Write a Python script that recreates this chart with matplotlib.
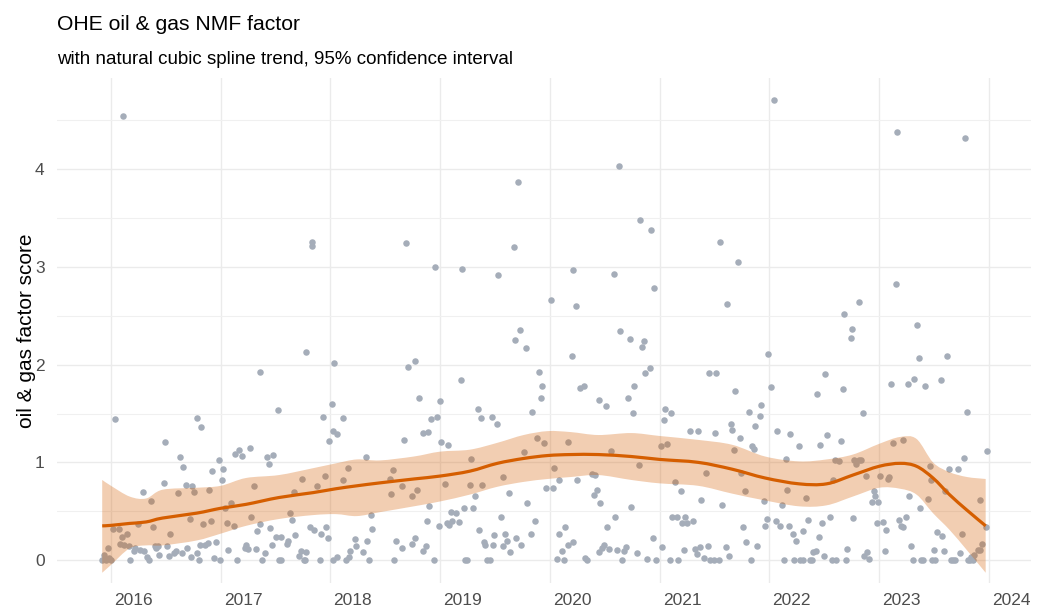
import matplotlib
matplotlib.use('Agg')
import matplotlib.pyplot as plt
import matplotlib.transforms as mtransforms
from matplotlib.path import Path
from matplotlib.patches import PathPatch
import numpy as np

# observed factor scores: (decimal year, score)
pts_2016_2017 = [
    (2016.11, 4.55), (2017.83, 3.26), (2017.83, 3.21), (2017.78, 2.13), (2017.36, 1.93),
    (2018.03, 2.02), (2016.04, 1.44), (2016.78, 1.45), (2016.82, 1.36), (2016.49, 1.21),
    (2016.63, 1.06), (2016.66, 0.95), (2016.48, 0.79), (2016.29, 0.70), (2016.36, 0.60),
    (2016.61, 0.69), (2016.68, 0.77), (2016.74, 0.76), (2016.76, 0.70), (2016.89, 0.72),
    (2016.92, 0.91), (2017.02, 0.93), (2016.98, 1.02), (2017.01, 0.82), (2017.13, 1.09),
    (2017.17, 1.13), (2017.19, 1.07), (2017.27, 1.15), (2017.52, 1.54), (2017.42, 1.05),
    (2017.44, 0.98), (2017.48, 1.08), (2017.30, 0.76), (2017.09, 0.58), (2017.04, 0.53),
    (2017.06, 0.38), (2017.12, 0.35), (2017.28, 0.44), (2017.36, 0.37), (2017.33, 0.30),
    (2017.45, 0.33), (2017.63, 0.48), (2017.65, 0.41), (2017.74, 0.83), (2017.67, 0.70),
    (2017.88, 0.76), (2017.95, 0.86), (2017.93, 1.46), (2018.01, 1.60), (2018.02, 1.32),
    (2017.99, 1.22), (2017.81, 0.34), (2017.85, 0.31), (2017.91, 0.27), (2017.96, 0.34),
    (2017.98, 0.23), (2017.68, 0.26), (2017.61, 0.19), (2017.60, 0.16), (2017.47, 0.15),
    (2017.50, 0.24), (2017.55, 0.24), (2017.73, 0.09), (2017.78, 0.08), (2017.71, 0.04),
    (2017.76, 0.00), (2017.77, 0.00), (2017.90, 0.00), (2018.02, 0.00), (2017.53, 0.00),
    (2017.55, 0.00), (2017.38, 0.00), (2017.40, 0.07), (2017.32, 0.11), (2017.23, 0.15),
    (2017.25, 0.11), (2017.22, 0.12), (2017.15, 0.00), (2017.07, 0.10), (2016.96, 0.18),
    (2016.99, 0.00), (2016.94, 0.02), (2016.88, 0.17), (2016.86, 0.15), (2016.81, 0.15),
    (2016.78, 0.07), (2016.80, 0.00), (2016.73, 0.03), (2016.69, 0.12), (2016.65, 0.07),
    (2016.59, 0.09), (2016.57, 0.07), (2016.53, 0.04), (2016.51, 0.14), (2016.44, 0.05),
    (2016.41, 0.12), (2016.43, 0.14), (2016.40, 0.14), (2016.35, 0.00), (2016.33, 0.03),
    (2016.30, 0.09), (2016.26, 0.10), (2016.22, 0.12), (2016.21, 0.09), (2016.17, 0.00),
    (2016.54, 0.27), (2016.38, 0.34), (2016.25, 0.37), (2016.15, 0.27), (2016.10, 0.24),
    (2016.08, 0.16), (2016.12, 0.15), (2016.16, 0.14), (2016.02, 0.32), (2016.07, 0.32),
    (2015.92, 0.00), (2015.94, 0.05), (2015.97, 0.12), (2016.00, 0.00), (2015.98, 0.02),
    (2015.95, 0.00), (2016.84, 0.37), (2016.91, 0.40), (2016.72, 0.42),
]

pts_2018_2019 = [
    (2019.71, 3.87), (2018.69, 3.25), (2019.67, 3.20), (2018.95, 3.00), (2019.20, 2.98),
    (2019.53, 2.92), (2020.21, 2.97), (2020.01, 2.66), (2020.24, 2.60), (2019.73, 2.36),
    (2019.68, 2.25), (2019.78, 2.17), (2020.20, 2.09), (2018.71, 1.98), (2018.77, 2.04),
    (2019.19, 1.84), (2019.90, 1.93), (2019.93, 1.78), (2019.92, 1.66), (2020.27, 1.76),
    (2020.31, 1.78), (2020.45, 1.64), (2018.81, 1.66), (2019.00, 1.63), (2019.34, 1.55),
    (2019.37, 1.45), (2019.47, 1.46), (2019.52, 1.39), (2019.84, 1.52), (2018.92, 1.44),
    (2018.97, 1.46), (2018.11, 1.45), (2018.06, 1.29), (2018.84, 1.30), (2018.89, 1.31),
    (2018.67, 1.23), (2019.01, 1.21), (2019.07, 1.18), (2019.88, 1.25), (2019.95, 1.20),
    (2020.16, 1.21), (2018.32, 1.06), (2018.16, 0.94), (2018.11, 0.82), (2018.57, 0.92),
    (2018.54, 0.83), (2018.55, 0.68), (2018.65, 0.76), (2018.74, 0.66), (2018.79, 0.72),
    (2019.04, 0.78), (2019.28, 1.03), (2019.27, 0.77), (2019.38, 0.77), (2019.57, 0.85),
    (2019.76, 1.11), (2020.04, 0.94), (2020.08, 0.82), (2019.96, 0.74), (2020.03, 0.74),
    (2019.63, 0.69), (2019.79, 0.58), (2019.32, 0.66), (2019.22, 0.53), (2019.30, 0.53),
    (2018.90, 0.55), (2019.10, 0.49), (2019.14, 0.48), (2019.11, 0.40), (2019.17, 0.39),
    (2019.06, 0.38), (2019.08, 0.36), (2018.99, 0.35), (2018.88, 0.40), (2019.55, 0.44),
    (2019.35, 0.31), (2019.86, 0.40), (2019.83, 0.27), (2020.08, 0.27), (2020.11, 0.09),
    (2020.06, 0.01), (2020.13, 0.00), (2018.37, 0.46), (2018.38, 0.32), (2018.22, 0.22),
    (2018.23, 0.14), (2018.18, 0.09), (2018.17, 0.03), (2018.14, 0.00), (2018.06, 0.03),
    (2018.33, 0.20), (2018.30, 0.08), (2018.35, 0.00), (2018.58, 0.00), (2018.60, 0.20),
    (2018.65, 0.12), (2018.74, 0.16), (2018.77, 0.23), (2018.84, 0.09), (2018.87, 0.14),
    (2018.94, 0.00), (2019.23, 0.00), (2019.24, 0.00), (2019.40, 0.18), (2019.41, 0.15),
    (2019.48, 0.15), (2019.49, 0.26), (2019.43, 0.00), (2019.45, 0.00), (2019.57, 0.14),
    (2019.59, 0.27), (2019.61, 0.20), (2019.64, 0.08), (2019.69, 0.23), (2019.74, 0.15),
]

pts_2020_2021 = [
    (2020.63, 4.03), (2020.82, 3.48), (2020.92, 3.38), (2020.58, 2.93), (2020.95, 2.78),
    (2020.64, 2.34), (2020.73, 2.26), (2020.84, 2.18), (2020.86, 2.24), (2020.87, 1.92),
    (2020.91, 1.97), (2021.55, 3.26), (2021.71, 3.05), (2021.61, 2.62), (2022.04, 4.71),
    (2021.99, 2.11), (2021.45, 1.92), (2021.51, 1.92), (2021.69, 1.73), (2022.01, 1.77),
    (2021.92, 1.59), (2021.81, 1.52), (2021.91, 1.47), (2021.87, 1.37), (2020.51, 1.58),
    (2020.71, 1.66), (2020.77, 1.78), (2020.76, 1.51), (2021.05, 1.55), (2021.10, 1.51),
    (2021.04, 1.43), (2021.28, 1.32), (2021.35, 1.32), (2021.50, 1.30), (2021.65, 1.39),
    (2021.66, 1.33), (2021.73, 1.25), (2021.84, 1.17), (2021.86, 1.14), (2020.56, 1.12),
    (2021.01, 1.17), (2021.07, 1.19), (2021.68, 1.13), (2020.81, 0.97), (2021.42, 0.89),
    (2020.38, 0.88), (2020.41, 0.87), (2021.74, 0.89), (2020.25, 0.82), (2021.78, 0.71),
    (2021.14, 0.80), (2021.19, 0.71), (2020.43, 0.72), (2020.40, 0.67), (2020.46, 0.58),
    (2020.74, 0.54), (2021.38, 0.61), (2021.57, 0.56), (2021.95, 0.60), (2020.14, 0.34),
    (2020.59, 0.44), (2020.52, 0.34), (2021.11, 0.44), (2021.16, 0.44), (2021.23, 0.44),
    (2021.20, 0.38), (2021.25, 0.38), (2021.30, 0.40), (2021.76, 0.34), (2021.98, 0.42),
    (2021.96, 0.35), (2020.94, 0.23), (2020.16, 0.15), (2020.21, 0.18), (2020.45, 0.08),
    (2020.47, 0.12), (2020.49, 0.15), (2020.54, 0.11), (2020.61, 0.10), (2020.67, 0.09),
    (2020.69, 0.13), (2020.79, 0.07), (2020.32, 0.02), (2020.34, 0.00), (2020.66, 0.00),
    (2020.88, 0.01), (2020.97, 0.00), (2021.02, 0.13), (2021.09, 0.00), (2021.17, 0.00),
    (2021.22, 0.10), (2021.32, 0.11), (2021.34, 0.06), (2021.37, 0.13), (2021.44, 0.14),
    (2021.40, 0.02), (2021.46, 0.00), (2021.49, 0.00), (2021.54, 0.00), (2021.60, 0.13),
    (2021.63, 0.04), (2021.79, 0.18), (2021.83, 0.00), (2021.89, 0.14),
]

pts_2022_2023 = [
    (2022.43, 1.70), (2022.51, 1.90), (2022.46, 1.18), (2022.52, 1.28), (2022.07, 1.32),
    (2022.19, 1.29), (2022.27, 1.17), (2022.15, 1.03), (2022.16, 0.72), (2022.11, 0.56),
    (2022.33, 0.64), (2022.06, 0.40), (2022.10, 0.35), (2022.18, 0.35), (2022.21, 0.27),
    (2022.24, 0.20), (2022.31, 0.30), (2022.13, 0.00), (2022.22, 0.00), (2022.28, 0.00),
    (2022.31, 0.00), (2023.16, 4.38), (2023.78, 4.32), (2023.15, 2.83), (2022.68, 2.52),
    (2022.82, 2.64), (2022.75, 2.37), (2022.74, 2.27), (2023.34, 2.41), (2023.36, 2.07),
    (2023.62, 2.09), (2022.67, 1.75), (2023.11, 1.80), (2023.26, 1.80), (2023.32, 1.85),
    (2023.42, 1.78), (2023.56, 1.84), (2022.85, 1.51), (2023.80, 1.52), (2022.65, 1.22),
    (2022.60, 1.02), (2022.63, 1.01), (2022.77, 1.02), (2022.79, 0.98), (2022.82, 1.02),
    (2022.83, 1.02), (2023.13, 1.20), (2023.22, 1.23), (2023.98, 1.12), (2023.77, 1.04),
    (2023.64, 0.93), (2023.72, 0.93), (2023.46, 0.96), (2023.01, 0.86), (2023.08, 0.83),
    (2023.09, 0.85), (2022.88, 0.86), (2022.58, 0.82), (2023.47, 0.82), (2023.60, 0.71),
    (2022.95, 0.71), (2022.96, 0.66), (2022.99, 0.59), (2022.93, 0.59), (2023.27, 0.66),
    (2023.44, 0.62), (2023.92, 0.61), (2023.37, 0.53), (2022.76, 0.43), (2022.55, 0.44),
    (2022.48, 0.38), (2022.35, 0.41), (2022.98, 0.38), (2023.03, 0.39), (2023.06, 0.31),
    (2023.18, 0.41), (2023.20, 0.35), (2023.22, 0.34), (2023.24, 0.44), (2023.53, 0.29),
    (2023.57, 0.25), (2023.75, 0.27), (2023.97, 0.34), (2022.45, 0.24), (2023.94, 0.16),
    (2023.92, 0.10), (2023.90, 0.10), (2023.86, 0.05), (2023.84, 0.03), (2023.85, 0.00),
    (2023.83, 0.00), (2023.81, 0.00), (2023.74, 0.07), (2023.67, 0.00), (2023.65, 0.00),
    (2023.69, 0.00), (2023.59, 0.09), (2023.50, 0.10), (2023.51, 0.00), (2023.48, 0.00),
    (2023.40, 0.00), (2023.38, 0.00), (2023.31, 0.00), (2023.29, 0.14), (2023.05, 0.09),
    (2022.86, 0.04), (2022.89, 0.08), (2022.91, 0.01), (2022.71, 0.11), (2022.70, 0.00),
    (2022.61, 0.00), (2022.57, 0.00), (2022.50, 0.04), (2022.42, 0.09), (2022.40, 0.08),
    (2022.39, 0.00), (2022.37, 0.00),
]

# spline fit and 95% interval
trend_dates = [2015.92, 2016.00, 2016.17, 2016.32, 2016.47, 2016.78, 2017.00, 2017.23,
               2017.53, 2017.84, 2018.05, 2018.24, 2018.45, 2018.76, 2019.00, 2019.27,
               2019.52, 2019.76, 2019.98, 2020.19, 2020.44, 2020.74, 2021.00, 2021.35,
               2021.66, 2021.96, 2022.27, 2022.52, 2022.76, 2023.00, 2023.19, 2023.34,
               2023.49, 2023.64, 2023.80, 2023.97]
trend_fit = [0.35, 0.355, 0.375, 0.39, 0.43, 0.48, 0.53, 0.57, 0.64, 0.69, 0.73, 0.76,
             0.79, 0.83, 0.86, 0.91, 0.99, 1.04, 1.07, 1.08, 1.08, 1.06, 1.03, 1.00,
             0.93, 0.84, 0.78, 0.78, 0.87, 0.96, 0.99, 0.96, 0.84, 0.67, 0.51, 0.35]
trend_lo = [-0.13, -0.05, 0.12, 0.15, 0.15, 0.20, 0.27, 0.35, 0.42, 0.46, 0.47, 0.45,
            0.49, 0.55, 0.60, 0.67, 0.75, 0.80, 0.83, 0.85, 0.87, 0.82, 0.785, 0.76,
            0.68, 0.61, 0.55, 0.56, 0.65, 0.74, 0.73, 0.67, 0.48, 0.31, 0.10, -0.13]
trend_hi = [0.82, 0.76, 0.65, 0.63, 0.72, 0.74, 0.76, 0.84, 0.87, 0.94, 0.99, 1.03,
            1.02, 1.06, 1.11, 1.13, 1.20, 1.28, 1.32, 1.31, 1.28, 1.30, 1.27, 1.23,
            1.18, 1.06, 1.01, 1.03, 1.08, 1.19, 1.26, 1.24, 1.00, 0.90, 0.85, 0.83]

years = list(range(2016, 2025))


def smooth_path(x, y, start_move=True):
    # catmull-rom through the points, drawn as cubic bezier segments
    p = np.column_stack([x, y]).astype(float)
    n = len(p)
    verts = [p[0]]
    codes = [Path.MOVETO if start_move else Path.LINETO]
    for i in range(n - 1):
        p0 = p[max(i - 1, 0)]
        p1 = p[i]
        p2 = p[i + 1]
        p3 = p[min(i + 2, n - 1)]
        c1 = p1 + (p2 - p0) / 6.0
        c2 = p2 - (p3 - p1) / 6.0
        verts += [c1, c2, p2]
        codes += [Path.CURVE4] * 3
    return verts, codes


plt.rcParams['font.family'] = ['Liberation Sans', 'DejaVu Sans']

pts = np.array(pts_2016_2017 + pts_2018_2019 + pts_2020_2021 + pts_2022_2023)

fig = plt.figure(figsize=(10.53, 6.09), dpi=100)
ax = fig.add_axes([57 / 1053, 1 - 583 / 609, (1031 - 57) / 1053, (583 - 78) / 609])

ax.scatter(pts[:, 0], pts[:, 1], s=22, color='#A5ADB9', linewidths=0, zorder=2)

# confidence band
up_v, up_c = smooth_path(trend_dates, trend_hi)
lo_v, lo_c = smooth_path(trend_dates[::-1], trend_lo[::-1], start_move=False)
band = Path(up_v + lo_v + [up_v[0]], up_c + lo_c + [Path.CLOSEPOLY])
ax.add_patch(PathPatch(band, facecolor='#D55E00', alpha=0.3, linewidth=0, zorder=3))

# fitted trend
fit_v, fit_c = smooth_path(trend_dates, trend_fit)
ax.add_patch(PathPatch(Path(fit_v, fit_c), facecolor='none', edgecolor='#D55E00',
                       linewidth=2.3, capstyle='butt', zorder=4))

ax.set_xlim(2015.508, 2024.383)
ax.set_ylim(-0.235, 4.935)
ax.set_xticks(years)
ax.set_xticklabels([str(y) for y in years])
ax.set_yticks([0, 1, 2, 3, 4])
ax.set_yticks(np.arange(0.5, 4.6, 1.0), minor=True)

for s in ax.spines.values():
    s.set_visible(False)
ax.grid(True, which='major', color='#EBEBEB', linewidth=1.0, zorder=0)
ax.grid(True, which='minor', axis='y', color='#F0F0F0', linewidth=0.8, zorder=0)
ax.set_axisbelow(True)
ax.tick_params(which='both', length=0, labelsize=12.5, labelcolor='#4D4D4D')
ax.tick_params(axis='y', pad=9)
ax.tick_params(axis='x', pad=7)

offset = mtransforms.ScaledTranslation(3 / 100, 0, fig.dpi_scale_trans)
for lab in ax.get_xticklabels():
    lab.set_horizontalalignment('left')
    lab.set_transform(lab.get_transform() + offset)

ax.set_ylabel('oil & gas factor score', fontsize=15, color='black', labelpad=-1)

fig.text(57 / 1053, 1 - 29.5 / 609, 'OHE oil & gas NMF factor', fontsize=15.2,
         ha='left', va='baseline', color='black')
fig.text(57 / 1053, 1 - 63.5 / 609,
         'with natural cubic spline trend, 95% confidence interval', fontsize=13.5,
         ha='left', va='baseline', color='black')

fig.savefig('out.png', dpi=100)
